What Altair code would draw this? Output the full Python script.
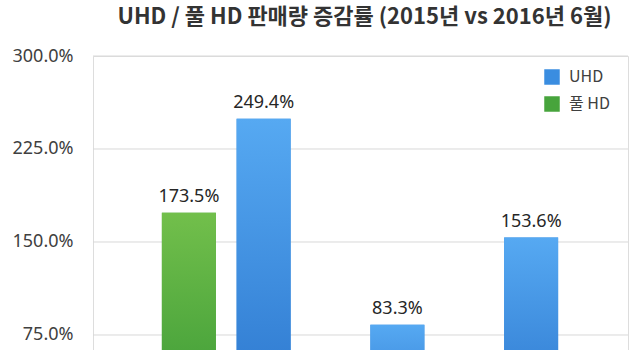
import altair as alt
import pandas as pd

# categories (x-axis labels are cropped out of the reference)
categories = ["구간 1", "구간 2", "구간 3", "구간 4"]
series_names = ["UHD", "풀 HD"]
uhd_values = [None, 249.4, 83.3, 153.6]
fhd_values = [173.5, None, None, None]
y_ticks = [75, 150, 225, 300]
title_text = "UHD / 풀 HD 판매량 증감률 (2015년 vs 2016년 6월)"

rows = []
for c, u, f in zip(categories, uhd_values, fhd_values):
    if u is not None:
        rows.append({"cat": c, "series": "UHD", "value": u})
    if f is not None:
        rows.append({"cat": c, "series": "풀 HD", "value": f})
df = pd.DataFrame(rows)
grid_df = pd.DataFrame({"value": y_ticks})

FONT = "Noto Sans CJK KR"
NUMFONT = "Noto Sans"
y_domain = [62.9, 300]
y_scale = alt.Scale(domain=y_domain, nice=False, zero=False)

x_enc = alt.X("cat:N", scale=alt.Scale(type="point", domain=categories, padding=0.5), axis=None)
y_enc = alt.Y("value:Q", scale=y_scale,
              axis=alt.Axis(values=y_ticks, title=None, domain=False, ticks=False, grid=False,
                            labelExpr="format(datum.value, '.1f') + '%'",
                            labelFont=NUMFONT, labelFontSize=18, labelColor="#404040",
                            labelPadding=20))
color_enc = alt.Color("series:N",
                      scale=alt.Scale(domain=series_names, range=["#3a8de0", "#47a43c"]),
                      legend=alt.Legend(title=None, orient="none", legendX=451, legendY=13,
                                        symbolType="square", symbolSize=240,
                                        symbolStrokeWidth=0,
                                        labelFont=FONT, labelFontSize=16, labelColor="#404040",
                                        labelOffset=9, rowPadding=11))

def grad(top, bottom):
    return alt.Gradient(gradient="linear", x1=0, y1=0, x2=0, y2=1,
                        stops=[alt.GradientStop(color=top, offset=0),
                               alt.GradientStop(color=bottom, offset=1)])

BAR_W = 54
styles = {
    "UHD": {"shift": -30, "grad": grad("#56a9f2", "#2a74cc")},
    "풀 HD": {"shift": 29, "grad": grad("#72bf4b", "#389835")},
}

gridlines = alt.Chart(grid_df).mark_rule(color="#d9d9d9", strokeWidth=1).encode(y=y_enc)

layers = [gridlines]
for s in series_names:
    sub = alt.Chart(df).transform_filter(alt.datum.series == s)
    st = styles[s]
    solid = sub.mark_bar(width=BAR_W, xOffset=st["shift"]).encode(x=x_enc, y=y_enc, color=color_enc)
    shaded = sub.mark_bar(width=BAR_W, xOffset=st["shift"], color=st["grad"]).encode(x=x_enc, y=y_enc)
    text = sub.transform_calculate(
        label="format(datum.value, '.1f') + '%'"
    ).mark_text(font=NUMFONT, fontSize=18, color="#262626", baseline="bottom",
                dy=-7, dx=st["shift"]).encode(x=x_enc, y=y_enc, text="label:N")
    layers += [solid, shaded, text]

chart = alt.layer(*layers).properties(
    width=535, height=294,
    title=alt.TitleParams(title_text, font=FONT, fontSize=22, fontWeight="bold",
                          color="#333333", anchor="middle", offset=18, dx=4, limit=630),
    autosize=alt.AutoSizeParams(type="none"),
    padding={"left": 93, "top": 56, "right": 12, "bottom": 0},
).configure_view(stroke=None, strokeWidth=0).configure(background="white")

chart.save("out.html", embed_options={"renderer": "svg", "actions": False})
